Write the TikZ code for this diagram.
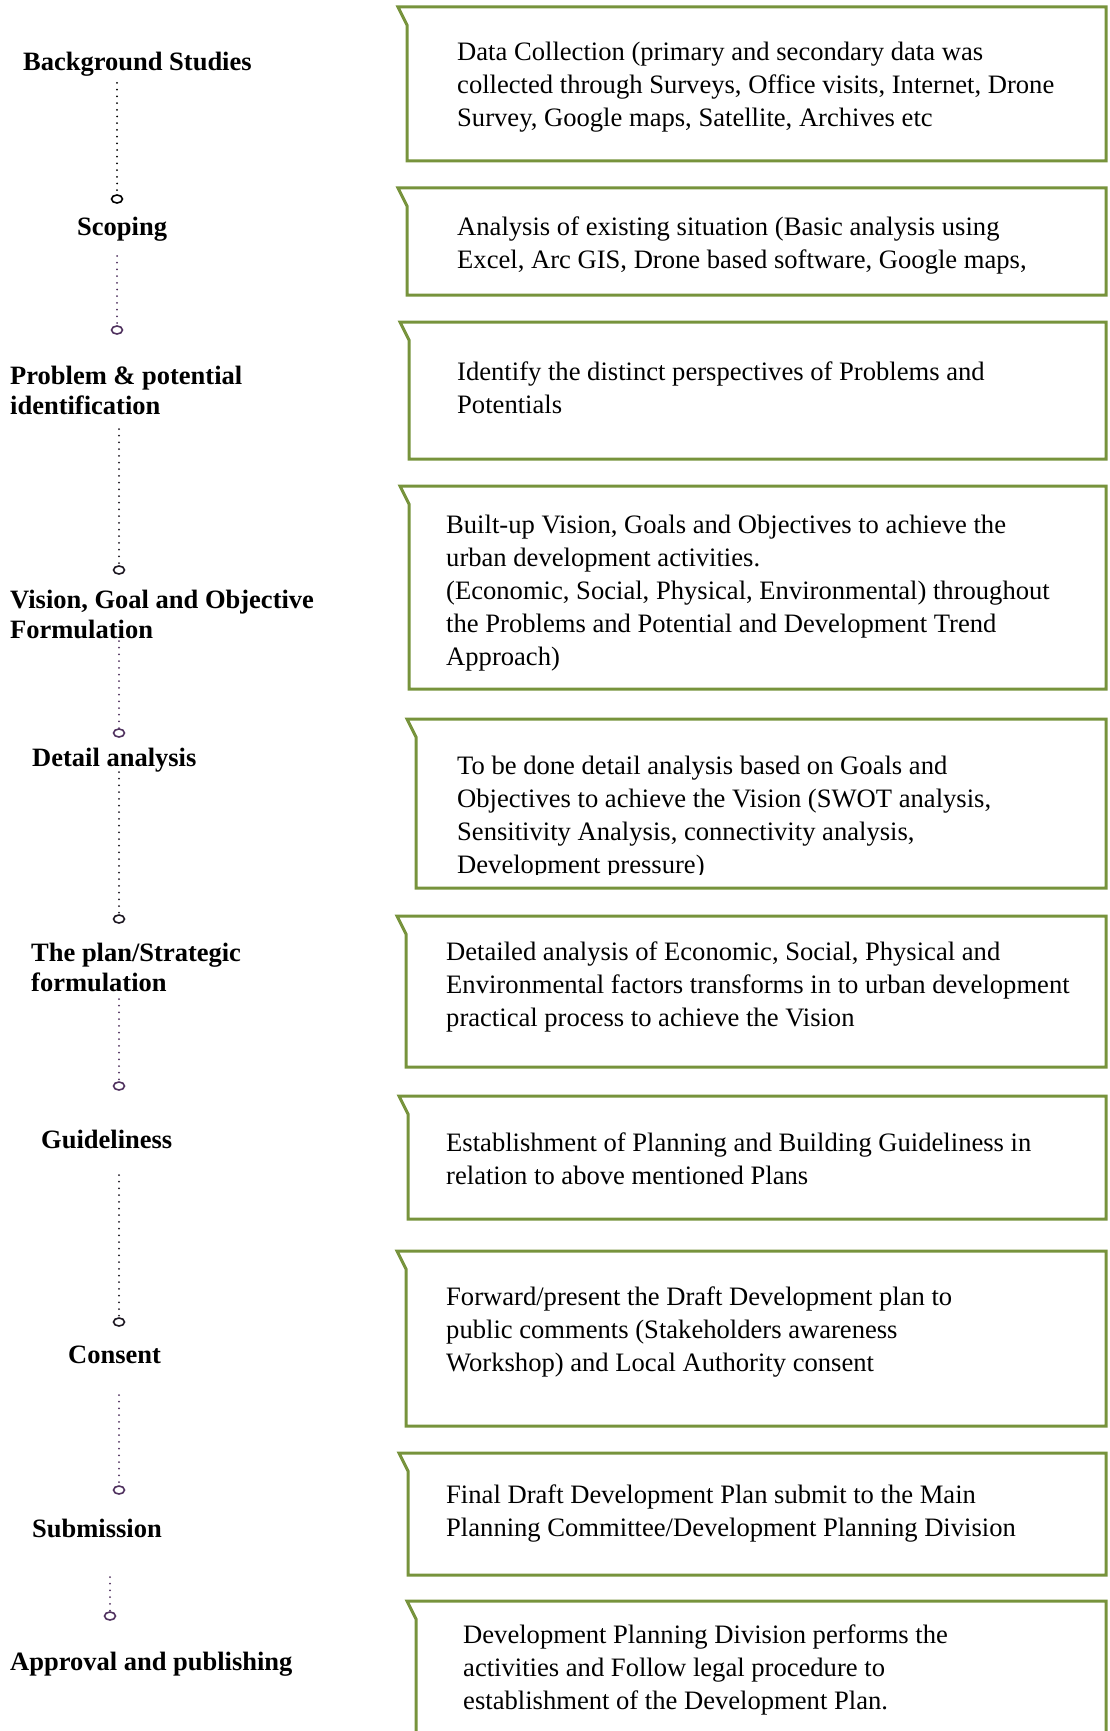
\documentclass[tikz,border=0pt]{standalone}
\usepackage{fontspec}
\setmainfont{Liberation Serif}
\usetikzlibrary{shapes.geometric}
\definecolor{boxgreen}{RGB}{119,147,60}
\definecolor{dotpurple}{RGB}{80,50,95}
\definecolor{dotdark}{RGB}{30,25,35}
\tikzset{
  boxline/.style={draw=boxgreen, line width=3pt, line join=miter},
  txt/.style={anchor=base west, inner sep=0pt, align=left, font=\fontsize{26.6}{33}\selectfont},
  lbl/.style={anchor=base west, inner sep=0pt, align=left, font=\bfseries\fontsize{26.5}{30.5}\selectfont},
  dotline/.style={line width=2pt, dash pattern=on 0pt off 6.7pt, line cap=round},
  ring/.style={ellipse, draw, line width=1.6pt, minimum width=11pt, minimum height=8pt, inner sep=0pt},
}
\newcommand\nbox[3]{\draw[boxline] (#1,#2) -- (1106,#2) -- (1106,#3) -- (#1+9,#3) -- (#1+9,#2+18) -- cycle;}
\begin{document}
\begin{tikzpicture}[x=1pt,y=-1pt]
\useasboundingbox (0,0) rectangle (1109,1731);
\clip (0,0) rectangle (1109,1731);
% boxes
\nbox{398}{7}{161}
\nbox{398}{188}{295}
\nbox{400}{322}{459}
\nbox{400}{486}{689}
\nbox{407}{719}{888}
\nbox{397}{916}{1067}
\nbox{399}{1096}{1219}
\nbox{397}{1251}{1426}
\nbox{399}{1453}{1575}
\nbox{407}{1601}{1760}
% box texts (anchor base = baseline of last line)
\node[txt] (t1) at (457,127) {Data Collection (primary and secondary data was\\collected through Surveys, Office visits, Internet, Drone\\Survey, Google maps, Satellite, Archives etc};
\node[txt] (t2) at (457,268) {Analysis of existing situation (Basic analysis using\\Excel, Arc GIS, Drone based software, Google maps,};
\node[txt] (t3) at (457,413) {Identify the distinct perspectives of Problems and\\Potentials};
\node[txt] (t4) at (446,665) {Built-up Vision, Goals and Objectives to achieve the\\urban development activities.\\(Economic, Social, Physical, Environmental) throughout\\the Problems and Potential and Development Trend\\Approach)};
\begin{scope}
\clip (417,721) rectangle (1104,874.5);
\node[txt] (t5) at (457,873) {To be done detail analysis based on Goals and\\Objectives to achieve the Vision (SWOT analysis,\\Sensitivity Analysis, connectivity analysis,\\Development pressure)};
\end{scope}
\node[txt] (t6) at (446,1026) {Detailed analysis of Economic, Social, Physical and\\Environmental factors transforms in to urban development\\practical process to achieve the Vision};
\node[txt] (t7) at (446,1184) {Establishment of Planning and Building Guideliness in\\relation to above mentioned Plans};
\node[txt] (t8) at (446,1371) {Forward/present the Draft Development plan to\\public comments (Stakeholders awareness\\Workshop) and Local Authority consent};
\node[txt] (t9) at (446,1536) {Final Draft Development Plan submit to the Main\\Planning Committee/Development Planning Division};
\node[txt] (t10) at (463,1709) {Development Planning Division performs the\\activities and Follow legal procedure to\\establishment of the Development Plan.};
% labels
\node[lbl] (l1) at (23,71) {Background Studies};
\node[lbl] (l2) at (77,235) {Scoping};
\node[lbl] (l3) at (10,414.5) {Problem \& potential\\identification};
\node[lbl] (l4) at (10,638.5) {Vision, Goal and Objective\\Formulation};
\node[lbl] (l5) at (32,766) {Detail analysis};
\node[lbl] (l6) at (31,991.5) {The plan/Strategic\\formulation};
\node[lbl] (l7) at (41,1148) {Guideliness};
\node[lbl] (l8) at (68,1363) {Consent};
\node[lbl] (l9) at (32,1537) {Submission};
\node[lbl] (l10) at (10,1670) {Approval and publishing};
% connectors
\coordinate (s1) at (117,83);
\coordinate (s2) at (117,256);
\coordinate (s3) at (119,429);
\coordinate (s4) at (119,641);
\coordinate (s5) at (119,772);
\coordinate (s6) at (119,999);
\coordinate (s7) at (119,1175);
\coordinate (s8) at (119,1395);
\coordinate (s9) at (110,1577);
\node[ring, draw=black] (c1) at (117,199) {};
\node[ring, draw=dotpurple] (c2) at (117,330) {};
\node[ring, draw=dotdark] (c3) at (119,570) {};
\node[ring, draw=dotpurple] (c4) at (119,733) {};
\node[ring, draw=dotdark] (c5) at (119,919) {};
\node[ring, draw=dotpurple] (c6) at (119,1086) {};
\node[ring, draw=dotdark] (c7) at (119,1322) {};
\node[ring, draw=dotpurple] (c8) at (119,1490) {};
\node[ring, draw=dotpurple] (c9) at (110,1616) {};
\draw[dotline, black] (s1) -- (c1);
\draw[dotline, dotpurple] (s2) -- (c2);
\draw[dotline, dotdark] (s3) -- (c3);
\draw[dotline, dotpurple] (s4) -- (c4);
\draw[dotline, dotdark] (s5) -- (c5);
\draw[dotline, dotpurple] (s6) -- (c6);
\draw[dotline, dotdark] (s7) -- (c7);
\draw[dotline, dotpurple] (s8) -- (c8);
\draw[dotline, dotpurple] (s9) -- (c9);
\end{tikzpicture}
\end{document}
